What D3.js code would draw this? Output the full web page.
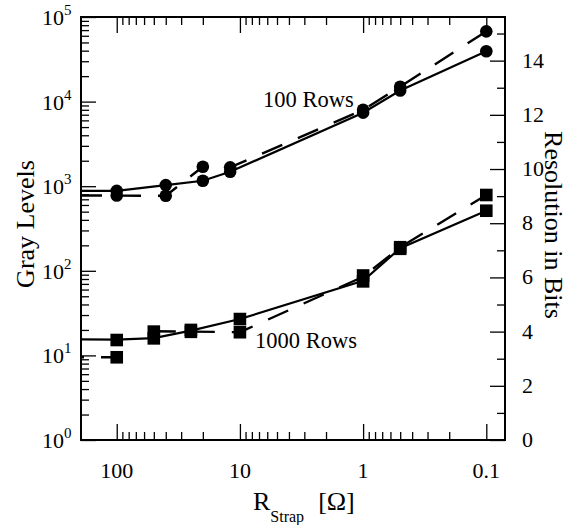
<!DOCTYPE html>
<html lang="en">
<head>
<meta charset="UTF-8">
<title>Gray levels vs strap resistance</title>
<script src="https://d3js.org/d3.v7.min.js"></script>
<style>
    body { margin: 0; background: #fff; }
    svg text { font-family: "Liberation Serif", "Times New Roman", serif; fill: #000; }
</style>
</head>
<body>
<script>
// strap resistance (ohm) for each measured point
var rRows100 = [100, 40, 20, 12, 1, 0.5, 0.1];
var rRows1000 = [100, 50, 25, 10, 1, 0.5, 0.1];

// 100 rows: two measurements per resistance
var grayRows100Solid = [880, 1030, 1160, 1480, 7400, 13500, 39300];
var grayRows100Dash = [775, 770, 1700, 1670, 8000, 15000, 67700];

// 1000 rows
var grayRows1000Solid = [15.4, 16, 19.6, 26.9, 76, 185, 513];
var grayRows1000Dash = [9.5, 19.3, 19.1, 18.8, 85, 190, 787];
var markRows1000A = [15.2, 19.1, 20, 26.9, 88, 190, 787];
var markRows1000B = [9.5, 15.9, 19, 18.8, 75, 182, 513];

// solid fit lines start at the left edge of the plot
var edgeR = 195;
var edgeGray100 = 880;
var edgeGray1000 = 15.5;

var xTicks = [100, 10, 1, 0.1];
var xTickLabels = ["100", "10", "1", "0.1"];
var yTicks = [1, 10, 100, 1000, 10000, 100000];
var yExponents = ["0", "1", "2", "3", "4", "5"];
var bitTicks = [0, 2, 4, 6, 8, 10, 12, 14];

var w = 577, h = 525;
var pLeft = 81, pRight = 505, pTop = 17, pBottom = 440;

var svg = d3.select("body").append("svg")
    .attr("width", w)
    .attr("height", h);

var x = d3.scaleLog().domain([195, 0.0705]).range([pLeft, pRight]);
var y = d3.scaleLog().domain([1, 100000]).range([pBottom, pTop]);
var bits = d3.scaleLinear().domain([0, 15.61]).range([pBottom, pTop]);

// minor log ticks
var xMinor = [];
[1000, 100, 10, 1].forEach(function(d) {
    for (var k = 2; k <= 9; k++) {
        var v = d * k / 10;
        if (v <= 195 && v >= 0.0705) xMinor.push(v);
    }
});
var yMinor = [];
[1, 10, 100, 1000, 10000].forEach(function(d) {
    for (var k = 2; k <= 9; k++) yMinor.push(d * k);
});
var bitMinor = [1, 3, 5, 7, 9, 11, 13, 15];

function styleAxis(g) {
    g.select(".domain").remove();
    g.selectAll("line").attr("stroke", "#000").attr("stroke-width", 1.3);
}

// bottom and top ticks (inward)
svg.append("g").attr("transform", "translate(0," + pBottom + ")")
    .call(d3.axisBottom(x).tickValues(xTicks).tickSize(-16).tickFormat(""))
    .call(styleAxis);
svg.append("g").attr("transform", "translate(0," + pBottom + ")")
    .call(d3.axisBottom(x).tickValues(xMinor).tickSize(-8).tickFormat(""))
    .call(styleAxis);
svg.append("g").attr("transform", "translate(0," + pTop + ")")
    .call(d3.axisTop(x).tickValues(xTicks).tickSize(-16).tickFormat(""))
    .call(styleAxis);
svg.append("g").attr("transform", "translate(0," + pTop + ")")
    .call(d3.axisTop(x).tickValues(xMinor).tickSize(-8).tickFormat(""))
    .call(styleAxis);

// left log ticks
svg.append("g").attr("transform", "translate(" + pLeft + ",0)")
    .call(d3.axisLeft(y).tickValues(yTicks).tickSize(-15).tickFormat(""))
    .call(styleAxis);
svg.append("g").attr("transform", "translate(" + pLeft + ",0)")
    .call(d3.axisLeft(y).tickValues(yMinor).tickSize(-8).tickFormat(""))
    .call(styleAxis);

// right bits ticks
svg.append("g").attr("transform", "translate(" + pRight + ",0)")
    .call(d3.axisRight(bits).tickValues(bitTicks).tickSize(-15).tickFormat(""))
    .call(styleAxis);
svg.append("g").attr("transform", "translate(" + pRight + ",0)")
    .call(d3.axisRight(bits).tickValues(bitMinor).tickSize(-8).tickFormat(""))
    .call(styleAxis);

// frame
svg.append("rect")
    .attr("x", pLeft).attr("y", pTop)
    .attr("width", pRight - pLeft).attr("height", pBottom - pTop)
    .attr("fill", "none").attr("stroke", "#000").attr("stroke-width", 2);

// tick labels
svg.selectAll(".xlab").data(xTicks).enter().append("text")
    .attr("x", function(d) { return x(d); })
    .attr("y", 478)
    .attr("text-anchor", "middle")
    .attr("font-size", 22)
    .text(function(d, i) { return xTickLabels[i]; });

svg.selectAll(".ylab").data(yTicks).enter().append("text")
    .attr("x", 64)
    .attr("y", function(d) { return y(d) + 8; })
    .attr("text-anchor", "end")
    .attr("font-size", 22)
    .text("10");
svg.selectAll(".yexp").data(yTicks).enter().append("text")
    .attr("x", 64)
    .attr("y", function(d) { return y(d) - 2; })
    .attr("font-size", 15)
    .text(function(d, i) { return yExponents[i]; });

svg.selectAll(".blab").data(bitTicks).enter().append("text")
    .attr("x", 522)
    .attr("y", function(d) { return bits(d) + 7; })
    .attr("font-size", 22)
    .text(function(d) { return d; });

// axis titles
svg.append("text")
    .attr("transform", "translate(34,224) rotate(-90)")
    .attr("text-anchor", "middle")
    .attr("font-size", 26)
    .text("Gray Levels");
svg.append("text")
    .attr("transform", "translate(545,225) rotate(90)")
    .attr("text-anchor", "middle")
    .attr("font-size", 26)
    .text("Resolution in Bits");

var xt = svg.append("text").attr("x", 253).attr("y", 510).attr("font-size", 26);
xt.append("tspan").text("R");
xt.append("tspan").attr("font-size", 16).attr("dy", 12).text("Strap");
xt.append("tspan").attr("dy", -12).attr("dx", 14).text("[\u03A9]");

// lines
var line = d3.line()
    .x(function(d) { return x(d[0]); })
    .y(function(d) { return y(d[1]); });

var plot = svg.append("g");

var solid100 = [[edgeR, edgeGray100]].concat(d3.zip(rRows100, grayRows100Solid));
var dash100 = d3.zip(rRows100, grayRows100Dash);
var solid1000 = [[edgeR, edgeGray1000]].concat(d3.zip(rRows1000, grayRows1000Solid));
var dash1000 = d3.zip(rRows1000, grayRows1000Dash);

[solid100, solid1000].forEach(function(d) {
    plot.append("path").datum(d)
        .attr("d", line)
        .attr("fill", "none")
        .attr("stroke", "#000")
        .attr("stroke-width", 2.2);
});

function dashed(d, offset) {
    plot.append("path").datum(d)
        .attr("d", line)
        .attr("fill", "none")
        .attr("stroke", "#000")
        .attr("stroke-width", 2.4)
        .attr("stroke-dasharray", "22,17")
        .attr("stroke-dashoffset", offset);
}
dashed([[edgeR, grayRows1000Dash[0]], dash1000[0]], -20);
dashed(dash1000.slice(1), 0);
dashed([[edgeR, grayRows100Dash[0]]].concat(dash100), 1);

// markers
var circles = d3.zip(rRows100, grayRows100Solid).concat(d3.zip(rRows100, grayRows100Dash));
plot.selectAll(".c").data(circles).enter().append("circle")
    .attr("cx", function(d) { return x(d[0]); })
    .attr("cy", function(d) { return y(d[1]); })
    .attr("r", 6.3)
    .attr("fill", "#000");

var squares = d3.zip(rRows1000, markRows1000A).concat(d3.zip(rRows1000, markRows1000B));
plot.selectAll(".s").data(squares).enter().append("rect")
    .attr("x", function(d) { return x(d[0]) - 6.3; })
    .attr("y", function(d) { return y(d[1]) - 6.3; })
    .attr("width", 12.6)
    .attr("height", 12.6)
    .attr("fill", "#000");

// series labels
svg.append("text").attr("x", 263).attr("y", 107).attr("font-size", 22.5).text("100 Rows");
svg.append("text").attr("x", 255).attr("y", 348).attr("font-size", 22.5).text("1000 Rows");
</script>
</body>
</html>
